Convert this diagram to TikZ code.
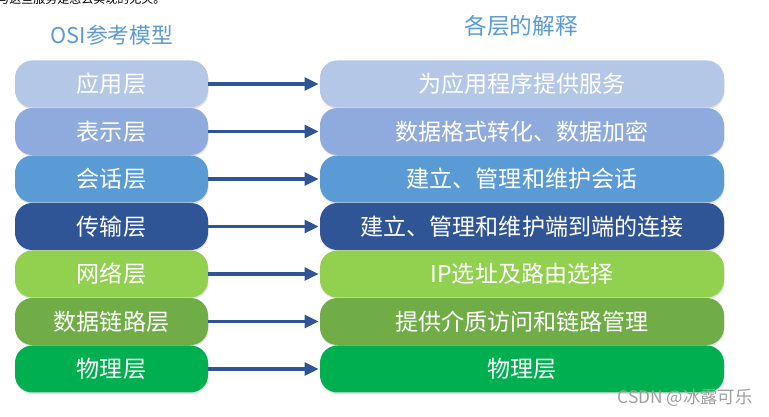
\documentclass[tikz,border=0pt]{standalone}
\usepackage{fontspec}
\setmainfont{Noto Sans CJK SC}
\usetikzlibrary{shadows,arrows.meta}
\definecolor{cA}{HTML}{B4C7E7}
\definecolor{cB}{HTML}{8FAADC}
\definecolor{cC}{HTML}{5B9BD5}
\definecolor{cD}{HTML}{2F5597}
\definecolor{cE}{HTML}{92D050}
\definecolor{cF}{HTML}{70AD47}
\definecolor{cG}{HTML}{00B050}
\definecolor{arrcol}{HTML}{2F5597}
\definecolor{titlecol}{HTML}{5B9BD5}
\tikzset{
  layerbox/.style={rounded corners=13pt, minimum height=35.25pt, inner sep=0pt,
    text=white, font=\fontsize{17.3}{19}\selectfont,
    drop shadow={opacity=0.22, shadow xshift=0.4pt, shadow yshift=-1.2pt}},
  leftbox/.style={layerbox, minimum width=144.75pt},
  rightbox/.style={layerbox, minimum width=303pt},
  arr/.style={draw=arrcol, line width=2.4pt, -{Triangle[length=10.5pt,width=9.5pt]}, shorten >=0.8pt},
  ttl/.style={text=titlecol, font=\fontsize{16.3}{18}\selectfont}
}
\begin{document}
\begin{tikzpicture}[x=0.75pt,y=-0.75pt]
\useasboundingbox (0,0) rectangle (769,417);
\fill[white] (0,0) rectangle (769,417);
\node[anchor=west, inner sep=0pt, font=\fontsize{9}{10}\selectfont] (cut) at (-3,-1) {与这些服务是怎么实现的无关。};
\node[ttl] (t1) at (112,35) {OSI参考模型};
\node[ttl, font=\fontsize{17}{19}\selectfont] (t2) at (521,26) {各层的解释};
\foreach \i/\c/\lt/\rt in {0/cA/应用层/为应用程序提供服务,
  1/cB/表示层/数据格式转化、数据加密,
  2/cC/会话层/建立、管理和维护会话,
  3/cD/传输层/建立、管理和维护端到端的连接,
  4/cE/网络层/IP选址及路由选择,
  5/cF/数据链路层/提供介质访问和链路管理,
  6/cG/物理层/物理层}{
  \node[leftbox, fill=\c] (l\i) at (111.5,84+47.5*\i) {\lt};
  \node[rightbox, fill=\c] (r\i) at (522,84+47.5*\i) {\rt};
  \draw[arr] (l\i.east) -- (r\i.west);
}
\node[text=gray!75, font=\fontsize{13}{14}\selectfont] (wm) at (685,398) {CSDN @冰露可乐};
\end{tikzpicture}
\end{document}
